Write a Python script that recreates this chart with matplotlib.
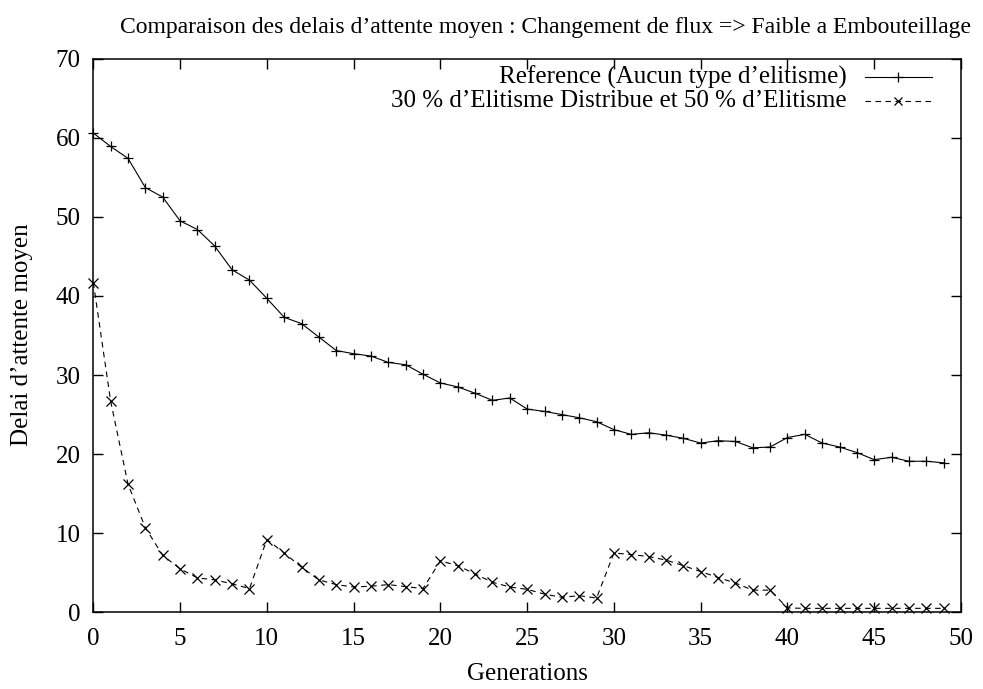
import matplotlib
matplotlib.use("Agg")
import matplotlib.pyplot as plt
from matplotlib.lines import Line2D

plt.rcParams['font.family'] = ['Liberation Serif', 'DejaVu Serif']

generations = list(range(50))

reference = [60.6, 58.9, 57.4, 53.7, 52.5, 49.5, 48.4, 46.3, 43.3, 42.0,
             39.7, 37.3, 36.5, 34.8, 33.1, 32.7, 32.4, 31.6, 31.3, 30.1,
             29.0, 28.5, 27.7, 26.8, 27.1, 25.7, 25.4, 25.0, 24.6, 24.1,
             23.1, 22.5, 22.7, 22.4, 22.0, 21.4, 21.7, 21.6, 20.8, 20.9,
             22.1, 22.5, 21.4, 20.9, 20.2, 19.3, 19.6, 19.1, 19.1, 18.9]

elitisme = [41.7, 26.7, 16.2, 10.7, 7.2, 5.5, 4.35, 4.1, 3.6, 3.0,
            9.2, 7.5, 5.7, 4.1, 3.5, 3.2, 3.3, 3.5, 3.25, 3.0,
            6.5, 5.9, 4.85, 3.8, 3.2, 2.9, 2.3, 1.9, 2.1, 1.8,
            7.5, 7.3, 7.05, 6.6, 5.9, 5.15, 4.4, 3.7, 2.8, 2.8,
            0.55, 0.5, 0.5, 0.5, 0.5, 0.5, 0.5, 0.5, 0.5, 0.5]

labels = ["Reference (Aucun type d\u2019elitisme)",
          "30 % d\u2019Elitisme Distribue et 50 % d\u2019Elitisme"]

W, H = 983, 689
fig = plt.figure(figsize=(W / 100, H / 100), dpi=100)
ax = fig.add_axes([93.3 / W, 1 - 612.3 / H, (961 - 93.3) / W, (612.3 - 58.7) / H])

ax.plot(generations, reference, color='black', linewidth=0.8,
        marker='+', markersize=7.5, markeredgewidth=0.9, clip_on=False)
ax.plot(generations, elitisme, color='black', linewidth=0.8, dashes=(5, 4),
        marker='x', markersize=7, markeredgewidth=0.9, clip_on=False)

ax.set_xlim(0, 50)
ax.set_ylim(0, 70)
ax.set_xticks(range(0, 51, 5))
ax.set_yticks(range(0, 71, 10))
ax.tick_params(direction='in', length=7, width=1, top=True, right=True,
               labelsize=18)
ax.tick_params(axis='x', pad=11)
ax.tick_params(axis='y', pad=9)
for s in ax.spines.values():
    s.set_linewidth(1.1)

# etiquettes des axes placees a la main
fig.text(527 / W, 1 - 674 / H, "Generations", ha='center', va='center', fontsize=18)
fig.text(22 / W, 1 - 335 / H, "Delai d\u2019attente moyen", ha='center', va='center',
         rotation=90, fontsize=18)

fig.text(546 / W, 1 - 28 / H, "Comparaison des delais d\u2019attente moyen : Changement de flux => Faible a Embouteillage",
         ha='center', va='center', fontsize=17)

# legende dessinee a la main (texte aligne a droite)
styles = [dict(linestyle='-', marker='+', markersize=7.5),
          dict(linestyle=(0, (5, 4)), marker='x', markersize=6)]
for i, (lab, st) in enumerate(zip(labels, styles)):
    yp = 1 - (77 + 24 * i) / H
    fig.text(847 / W, yp, lab, ha='right', va='center', fontsize=18)
    fig.add_artist(Line2D([865 / W, 932 / W], [yp, yp], color='black',
                          linewidth=0.8, linestyle=st['linestyle']))
    fig.add_artist(Line2D([898 / W], [yp], color='black', marker=st['marker'],
                          markersize=st['markersize'], markeredgewidth=0.9))

fig.savefig("out.png", dpi=100)
